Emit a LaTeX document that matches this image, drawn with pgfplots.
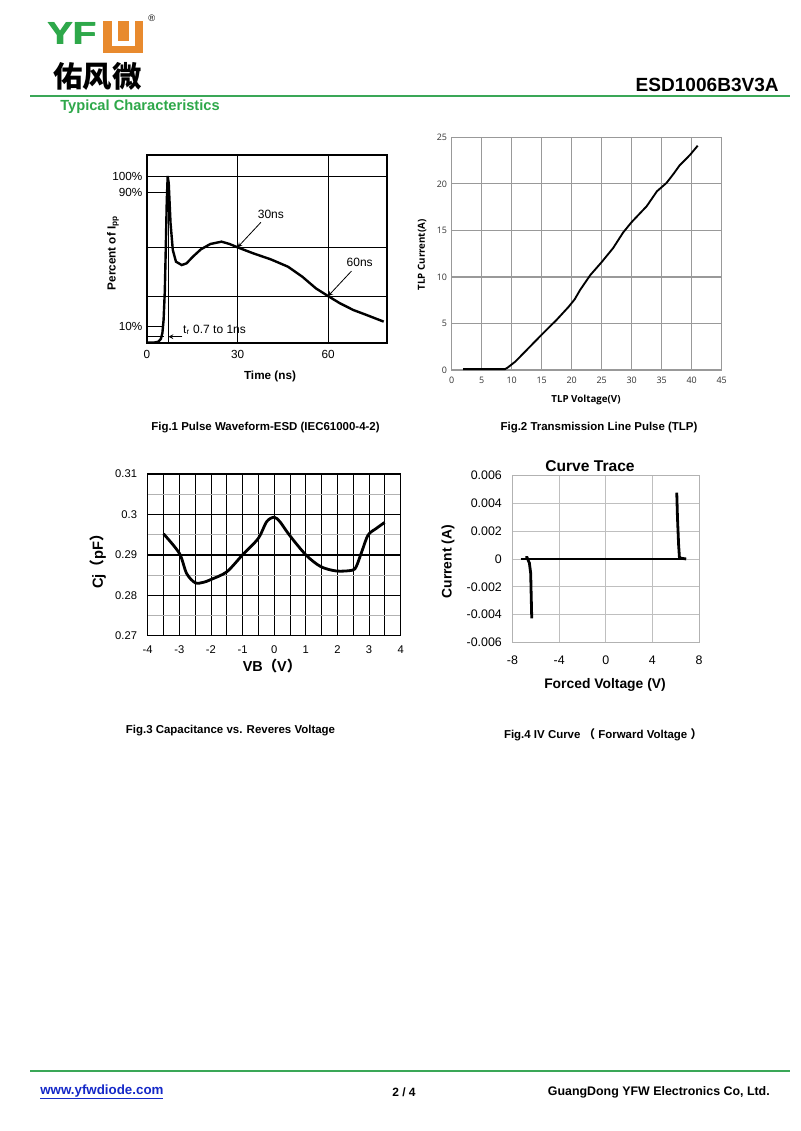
\documentclass[border=0pt]{standalone}
\usepackage{pgfplots}
\pgfplotsset{compat=1.18}
\usepackage{fontspec}
\setmainfont{Liberation Sans}
\newfontfamily\opensans{Open Sans}
\newfontfamily\cjk{Noto Sans CJK SC}
\definecolor{yfwgreen}{RGB}{46,168,74}
\definecolor{yfworange}{RGB}{232,138,46}
\definecolor{rulegreen}{RGB}{58,167,87}
\definecolor{linkblue}{RGB}{20,40,200}
\newcommand\fs[1]{\fontsize{#1}{#1}\selectfont}

\begin{document}
\begin{tikzpicture}
% page frame, 1 unit = 1 px of the reference
\begin{scope}[x=0.75pt,y=-0.75pt]
\fill[white] (0,0) rectangle (800,1131);
% logo
\foreach \dx in {0,0.5,1.0}
  \node[anchor=base west,inner sep=0,text=yfwgreen,font=\fs{24pt}\bfseries,xscale=1.2] at (46.5+\dx,44.7) {YF};
\fill[yfworange] (103.3,21.3) rectangle (143.3,53);
\fill[white] (111.5,21.3) rectangle (135,46);
\fill[yfworange] (117.5,21.3) rectangle (129,41);
\node[font=\fs{7pt}] at (151.7,18) {®};
\node[font=\cjk\bfseries\fs{22pt},inner sep=0] at (97.5,76.5) {佑风微};
\draw[rulegreen,line width=1.5pt] (30,96) -- (790,96);
\node[anchor=east,font=\fs{14.3pt}\bfseries,inner sep=0] at (779,84.5) {ESD1006B3V3A};
\node[anchor=west,font=\fs{11pt}\bfseries,text=yfwgreen,inner sep=0] at (60,106.5) {Typical Characteristics};
% footer
\draw[rulegreen,line width=1.5pt] (30,1071) -- (790,1071);
\node[anchor=west,font=\fs{10pt}\bfseries,text=linkblue,inner sep=0] at (40,1092) {\underline{www.yfwdiode.com}};
\node[font=\fs{9pt}\bfseries,inner sep=0] at (404,1092) {2 / 4};
\node[anchor=east,font=\fs{9.3pt}\bfseries,inner sep=0] at (770,1092) {GuangDong YFW Electronics Co, Ltd.};
% captions
\node[font=\fs{8.6pt}\bfseries] at (265.5,428) {Fig.1 Pulse Waveform-ESD (IEC61000-4-2)};
\node[font=\fs{8.6pt}\bfseries] at (599,428) {Fig.2 Transmission Line Pulse (TLP)};
\node[font=\fs{8.6pt}\bfseries] at (230.5,731) {Fig.3 Capacitance vs. Reveres Voltage};
\node[font=\fs{8.6pt}\bfseries] at (603,735) {Fig.4 IV Curve {\cjk （} Forward Voltage {\cjk ）}};
% axis titles
\node[rotate=90,font=\fs{8.8pt}\bfseries] at (113,253) {Percent of I\textsubscript{pp}};
\node[font=\fs{8.8pt}\bfseries] at (270,376.7) {Time (ns)};
\node[rotate=90,font=\opensans\bfseries\fs{7.3pt}] at (422,255) {TLP Current(A)};
\node[font=\opensans\bfseries\fs{7.3pt}] at (586,400) {TLP Voltage(V)};
\node[rotate=90,font=\fs{11pt}\bfseries] at (98,558) {Cj{\cjk （}pF{\cjk ）}};
\node[font=\fs{10.8pt}\bfseries] at (272,666) {VB{\cjk （}V{\cjk ）}};
\node[font=\fs{11.7pt}\bfseries] at (590,466) {Curve Trace};
\node[rotate=90,font=\fs{10.4pt}\bfseries] at (448,561.7) {Current (A)};
\node[font=\fs{10.4pt}\bfseries] at (605,685) {Forced Voltage (V)};
\end{scope}

% Fig.1 pulse waveform
\begin{axis}[at={(147*0.75pt,-343*0.75pt)},anchor=south west,scale only axis,
  width=180pt,height=141pt,xmin=0,xmax=79.5,ymin=0,ymax=112.6,
  axis line style={line width=1.1pt},major tick length=0,clip=false,
  xtick={0,30,60},xticklabels={0,30,60},
  ytick={10,90,100},yticklabels={10\%,90\%,100\%},
  xmajorgrids,grid style={black,line width=0.7pt},
  extra y ticks={28.1,57.3,100},extra y tick labels={},
  extra y tick style={grid=major},
  tick label style={font=\fs{8.8pt}},
  xticklabel style={yshift=-2pt}]
\addplot[black,line width=1.8pt] coordinates {
(0,0.2) (2.5,0.3) (3.8,0.8) (4.6,2.5) (5.1,6) (5.5,14) (5.9,31) (6.2,55)
(6.55,85) (6.85,100) (7.2,95.6) (7.8,71.7) (8.55,55.7) (9.6,48.7) (11.5,46.7)
(13.1,47.7) (15.2,51.7) (17.85,56.1) (21.0,59.3) (24.7,60.7) (27.35,59.3)
(30.0,57.3) (35.2,53.7) (41.0,50.1) (46.7,45.7) (51.45,39.7) (55.97,32.7)
(60.0,28.1) (63.9,23.8) (68.3,19.8) (72.7,16.8) (78.4,12.8)};
\draw[black,line width=0.7pt] (axis cs:0,90) -- (axis cs:6.5,90);
\draw[black,line width=0.7pt] (axis cs:0,10) -- (axis cs:5.3,10);
\draw[black,line width=0.7pt] (axis cs:0,3.8) -- (axis cs:5.7,3.8);
\draw[black,line width=0.7pt] (axis cs:7.05,0) -- (axis cs:7.05,100);
\draw[-stealth,line width=0.6pt] (axis cs:7.05,3.8) ++(10.5pt,0) -- ++(-10.3pt,0);
\node[anchor=west,font=\fs{9pt},inner sep=0] at (axis cs:7.05,3.8) [xshift=11pt,yshift=5pt] {t\textsubscript{r} 0.7 to 1ns};
\draw[stealth-,line width=0.6pt] (axis cs:30,57.3) -- ++(17.5pt,18.75pt);
\node[font=\fs{9pt}] at (axis cs:30,57.3) [xshift=25pt,yshift=25pt] {30ns};
\draw[stealth-,line width=0.6pt] (axis cs:60,28.1) -- ++(17.5pt,18.75pt);
\node[font=\fs{9pt}] at (axis cs:60,28.1) [xshift=23.7pt,yshift=25pt] {60ns};
\end{axis}

% Fig.2 TLP
\begin{axis}[at={(451.7*0.75pt,-370*0.75pt)},anchor=south west,scale only axis,
  width=202.5pt,height=174.5pt,xmin=0,xmax=45,ymin=0,ymax=25,
  xtick={0,5,...,45},ytick={0,5,...,25},
  xticklabels={0,5,10,15,20,25,30,35,40,45},yticklabels={0,5,10,15,20,25},
  major tick length=0,grid=major,
  grid style={gray!80,line width=0.9pt},
  axis line style={gray!80,line width=0.9pt},
  tick label style={font=\opensans\fs{6.7pt},text=black!80},
  xticklabel style={yshift=-1.5pt}]
\addplot[black,line width=1.4pt] coordinates {
(1.9,0.1) (8.9,0.1) (9.3,0.25) (10.6,0.9) (12.5,2.15) (15,3.8) (17.5,5.4)
(19.5,6.8) (20.5,7.6) (21.4,8.6) (23.1,10.2) (25,11.6) (26.9,13.1) (28.6,14.8)
(30,15.9) (32.5,17.6) (34.2,19.2) (35.8,20.1) (37,21.1) (38,22.0) (39.7,23.1)
(41,24.1)};
\end{axis}

% Fig.3 capacitance
\begin{axis}[at={(147.7*0.75pt,-635.7*0.75pt)},anchor=south west,scale only axis,
  width=189.75pt,height=121.3pt,xmin=-4,xmax=4,ymin=0.27,ymax=0.31,
  xtick={-4,...,4},xticklabels={-4,-3,-2,-1,0,1,2,3,4},
  ytick={0.27,0.28,0.29,0.30,0.31},yticklabels={0.27,0.28,0.29,0.3,0.31},
  scaled y ticks=false,
  minor x tick num=1,minor y tick num=1,major tick length=0,minor tick length=0,
  xmajorgrids,xminorgrids,ymajorgrids,yminorgrids,
  x grid style={black,line width=0.6pt},
  major y grid style={black,line width=1pt},
  minor y grid style={gray!60,line width=0.6pt},
  minor x grid style={black,line width=0.6pt},
  axis line style={black,line width=0.8pt},
  tick label style={font=\fs{8.4pt}},
  xticklabel style={yshift=-4pt},
  yticklabel style={xshift=-4.5pt}]
\addplot[black,line width=2.1pt,smooth,tension=0.5] coordinates {
(-3.5,0.2952) (-3.0,0.2904) (-2.77,0.2854) (-2.5,0.2831) (-2.24,0.2832)
(-2.0,0.2839) (-1.5,0.2858) (-1.0,0.2900) (-0.5,0.2941) (-0.24,0.2982)
(0,0.2993) (0.18,0.2982) (0.48,0.2949) (1.0,0.2900) (1.47,0.2871)
(1.97,0.2860) (2.47,0.2862) (2.6,0.2872) (2.77,0.2908) (2.97,0.2949)
(3.24,0.2966) (3.49,0.2980)};
\end{axis}

% Fig.4 IV curve
\begin{axis}[at={(512.5*0.75pt,-642.3*0.75pt)},anchor=south west,scale only axis,
  width=139.9pt,height=125pt,xmin=-8,xmax=8,ymin=-0.006,ymax=0.006,
  xtick={-8,-4,0,4,8},xticklabels={-8,-4,0,4,8},
  ytick={-0.006,-0.004,-0.002,0,0.002,0.004,0.006},
  yticklabels={-0.006,-0.004,-0.002,0,0.002,0.004,0.006},
  scaled y ticks=false,
  major tick length=0,grid=major,
  grid style={gray!50,line width=0.7pt},
  axis line style={gray!60,line width=0.7pt},
  tick label style={font=\fs{9.3pt}},
  xticklabel style={yshift=-6.5pt},
  yticklabel style={xshift=-4.5pt}]
\addplot[black,line width=2.1pt] coordinates {(-7.3,0) (6.9,0)};
\addplot[black,line width=2.1pt] coordinates {
(-6.35,-0.00427) (-6.4,-0.0025) (-6.44,-0.00103) (-6.55,-0.0003) (-6.75,0.0001) (-6.9,0.0001)};
\addplot[black,line width=2.1pt] coordinates {
(6.09,0.00477) (6.15,0.003) (6.25,0.001) (6.32,0.0001) (6.5,0.00005) (6.9,0)};
\end{axis}
\end{tikzpicture}
\end{document}
